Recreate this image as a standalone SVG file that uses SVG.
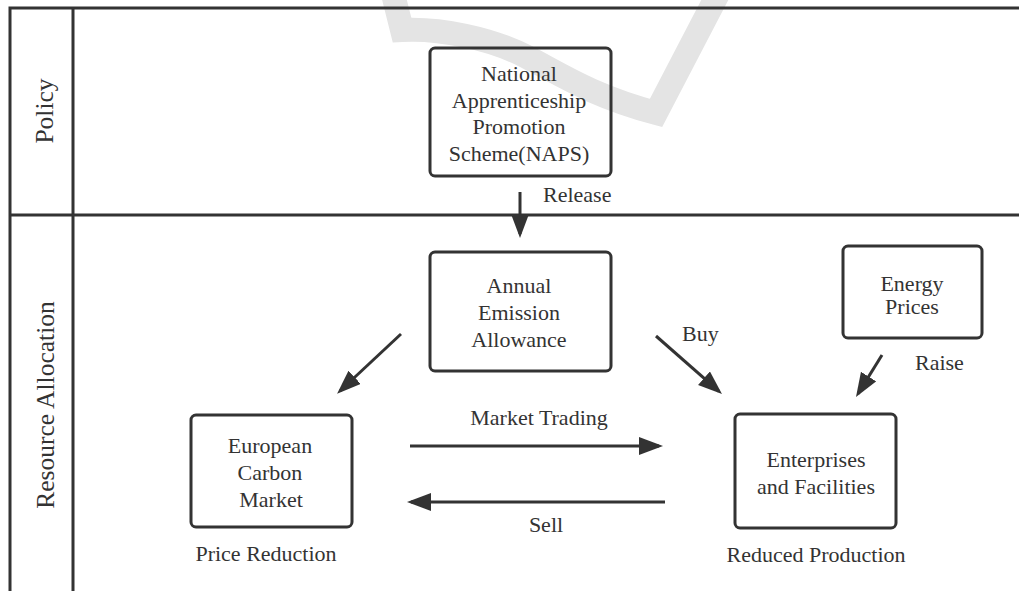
<svg xmlns="http://www.w3.org/2000/svg" width="1019" height="591" viewBox="0 0 1019 591">
  <style>
    .frame { stroke: #333; stroke-width: 3; fill: none; }
    .box { stroke: #333; stroke-width: 3; fill: none; }
    .lbl { font-family: "Liberation Serif", "Times New Roman", serif; font-size: 22px; fill: #333; }
    .lane { font-family: "Liberation Serif", "Times New Roman", serif; font-size: 25.5px; fill: #333; text-anchor: middle; }
    .mid { text-anchor: middle; }
    .arrow { stroke: #333; stroke-width: 3; fill: none; marker-end: url(#head); }
  </style>
  <defs>
    <marker id="head" markerUnits="userSpaceOnUse" markerWidth="26" markerHeight="20" refX="20" refY="9" orient="auto">
      <path d="M0,0 L24,9 L0,18 z" fill="#333"/>
    </marker>
  </defs>

  <rect width="1019" height="591" fill="#fff"/>

  <!-- faint background swoosh -->
  <path d="M392 -10 L402 30 C440 28 490 38 527 57 C560 74 592 96 656 113 L720 -10" fill="none" stroke="#e4e4e4" stroke-width="24" stroke-linejoin="miter"/>

  <!-- swimlane frame -->
  <g id="lanes">
    <path class="frame" d="M10 591 V8 H1019"/>
    <path class="frame" d="M73 8 V591"/>
    <path class="frame" d="M10 215 H1019"/>
    <text class="lane" transform="translate(53 111) rotate(-90)">Policy</text>
    <text class="lane" transform="translate(54 405) rotate(-90)">Resource Allocation</text>
  </g>

  <g id="naps">
    <rect class="box" x="430" y="48" width="181" height="128" rx="5"/>
    <text class="lbl mid" x="519" y="81">National</text>
    <text class="lbl mid" x="519" y="108">Apprenticeship</text>
    <text class="lbl mid" x="519" y="134">Promotion</text>
    <text class="lbl mid" x="519" y="161">Scheme(NAPS)</text>
  </g>

  <g id="allowance">
    <rect class="box" x="430" y="252" width="181" height="119" rx="5"/>
    <text class="lbl mid" x="519" y="293">Annual</text>
    <text class="lbl mid" x="519" y="320">Emission</text>
    <text class="lbl mid" x="519" y="347">Allowance</text>
  </g>

  <g id="energy">
    <rect class="box" x="843" y="246" width="139" height="92" rx="5"/>
    <text class="lbl mid" x="912" y="291">Energy</text>
    <text class="lbl mid" x="912" y="314">Prices</text>
  </g>

  <g id="carbon-market">
    <rect class="box" x="191" y="415" width="161" height="112" rx="5"/>
    <text class="lbl mid" x="270" y="453">European</text>
    <text class="lbl mid" x="270" y="480">Carbon</text>
    <text class="lbl mid" x="271" y="507">Market</text>
    <text class="lbl mid" x="266" y="561">Price Reduction</text>
  </g>

  <g id="enterprises">
    <rect class="box" x="735" y="414" width="161" height="114" rx="5"/>
    <text class="lbl mid" x="816" y="467">Enterprises</text>
    <text class="lbl mid" x="816" y="494">and Facilities</text>
    <text class="lbl mid" x="816" y="562">Reduced Production</text>
  </g>

  <g id="connectors">
    <line class="arrow" x1="520" y1="192" x2="520" y2="234"/>
    <text class="lbl" x="543" y="202">Release</text>

    <line class="arrow" x1="401" y1="334" x2="340" y2="391"/>

    <line class="arrow" x1="656" y1="336" x2="719" y2="391.4"/>
    <text class="lbl" x="682" y="341">Buy</text>

    <line class="arrow" x1="882" y1="355" x2="858.1" y2="393.6"/>
    <text class="lbl" x="915" y="370">Raise</text>

    <line class="arrow" x1="410" y1="446" x2="659" y2="446"/>
    <text class="lbl mid" x="539" y="425">Market Trading</text>

    <line class="arrow" x1="665" y1="502" x2="411" y2="502"/>
    <text class="lbl mid" x="546" y="532">Sell</text>
  </g>
</svg>
